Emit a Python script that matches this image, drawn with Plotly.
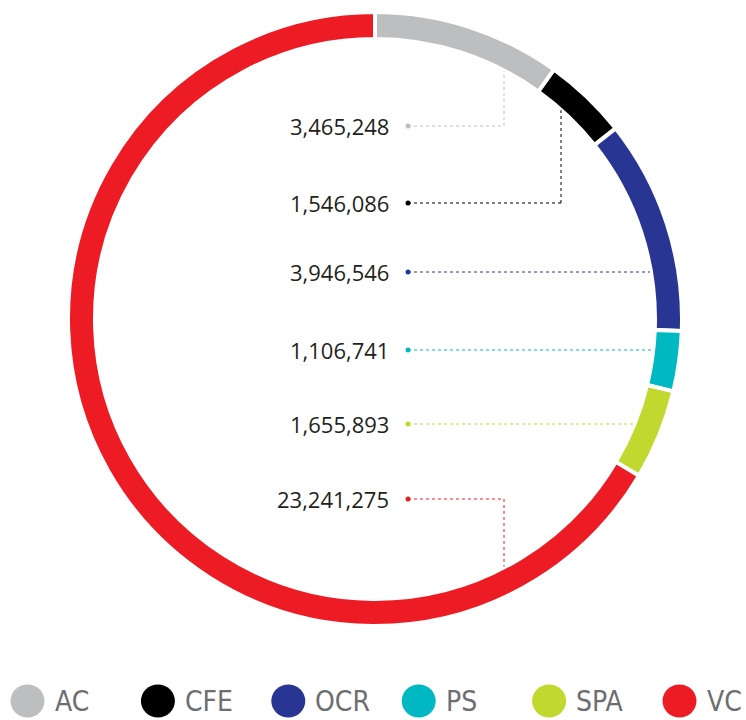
import plotly.graph_objects as go
import math

# ---- data ----
categories = ["AC", "CFE", "OCR", "PS", "SPA", "VC"]
values = [3465248, 1546086, 3946546, 1106741, 1655893, 23241275]
colors = ["#bcbec0", "#000000", "#283593", "#00b8c2", "#c1d82f", "#ed1c24"]

# ---- layout constants (pixels) ----
W, H = 746, 720
CX, CY = 375, 319
R_OUT = 307          # includes half of white separator stroke
R_IN_VIS = 282       # visible inner radius
HOLE = 280 / R_OUT
label_y = [126, 203, 272, 350, 424, 499]
dot_x = 408
text_right = 391
# vertical leader positions (None = horizontal only); direction -1 up, +1 down
leader_vx = [504, 561, None, None, None, 504]
leader_dir = [-1, -1, 0, 0, 0, 1]
legend_x0 = 27.5
legend_step = 130.4
legend_y = 701

fig = go.Figure()
fig.add_trace(go.Pie(
    labels=categories, values=values,
    marker=dict(colors=colors, line=dict(color="white", width=4)),
    hole=HOLE, sort=False, direction="clockwise", rotation=0,
    textinfo="none", hoverinfo="label+value", showlegend=False,
    domain=dict(x=[(CX - R_OUT) / W, (CX + R_OUT) / W],
                y=[1 - (CY + R_OUT) / H, 1 - (CY - R_OUT) / H]),
))

shapes = []
annotations = []
gap = 3
for i, cat in enumerate(categories):
    y = label_y[i]
    c = colors[i]
    annotations.append(dict(
        x=text_right, y=y, xref="x", yref="y", xanchor="right", yanchor="middle",
        text=f"{values[i]:,}", showarrow=False,
        font=dict(family="Open Sans", size=22, color="#231f20")))
    shapes.append(dict(type="circle", xref="x", yref="y",
                       x0=dot_x - 2.5, x1=dot_x + 2.5, y0=y - 2.5, y1=y + 2.5,
                       fillcolor=c, line=dict(width=0)))
    if leader_vx[i] is None:
        xe = CX + math.sqrt(R_IN_VIS ** 2 - (y - CY) ** 2) - gap
        shapes.append(dict(type="line", xref="x", yref="y", x0=dot_x, x1=xe, y0=y, y1=y,
                           line=dict(color=c, width=1, dash="dot")))
    else:
        vx = leader_vx[i]
        ye = CY + leader_dir[i] * (math.sqrt(R_IN_VIS ** 2 - (vx - CX) ** 2) - gap)
        shapes.append(dict(type="line", xref="x", yref="y", x0=dot_x, x1=vx, y0=y, y1=y,
                           line=dict(color=c, width=1, dash="dot")))
        shapes.append(dict(type="line", xref="x", yref="y", x0=vx, x1=vx, y0=y, y1=ye,
                           line=dict(color=c, width=1, dash="dot")))
    lx = legend_x0 + i * legend_step
    shapes.append(dict(type="circle", xref="x", yref="y",
                       x0=lx - 17, x1=lx + 17, y0=legend_y - 16.5, y1=legend_y + 16.5,
                       fillcolor=c, line=dict(width=0)))
    annotations.append(dict(
        x=lx + 25, y=legend_y, xref="x", yref="y", xanchor="left", yanchor="middle",
        text=cat, showarrow=False,
        font=dict(family="Liberation Sans Narrow, DejaVu Sans Condensed, Roboto", size=28, color="#6d6e71")))

fig.update_layout(
    width=W, height=H, margin=dict(l=0, r=0, t=0, b=0),
    paper_bgcolor="white", plot_bgcolor="rgba(0,0,0,0)",
    xaxis=dict(range=[0, W], visible=False, fixedrange=True),
    yaxis=dict(range=[H, 0], visible=False, fixedrange=True),
    shapes=shapes, annotations=annotations, showlegend=False,
)
fig.write_html("out.html", config={"displayModeBar": False},
               post_script="document.body.style.margin='0';document.body.style.overflow='hidden';")
